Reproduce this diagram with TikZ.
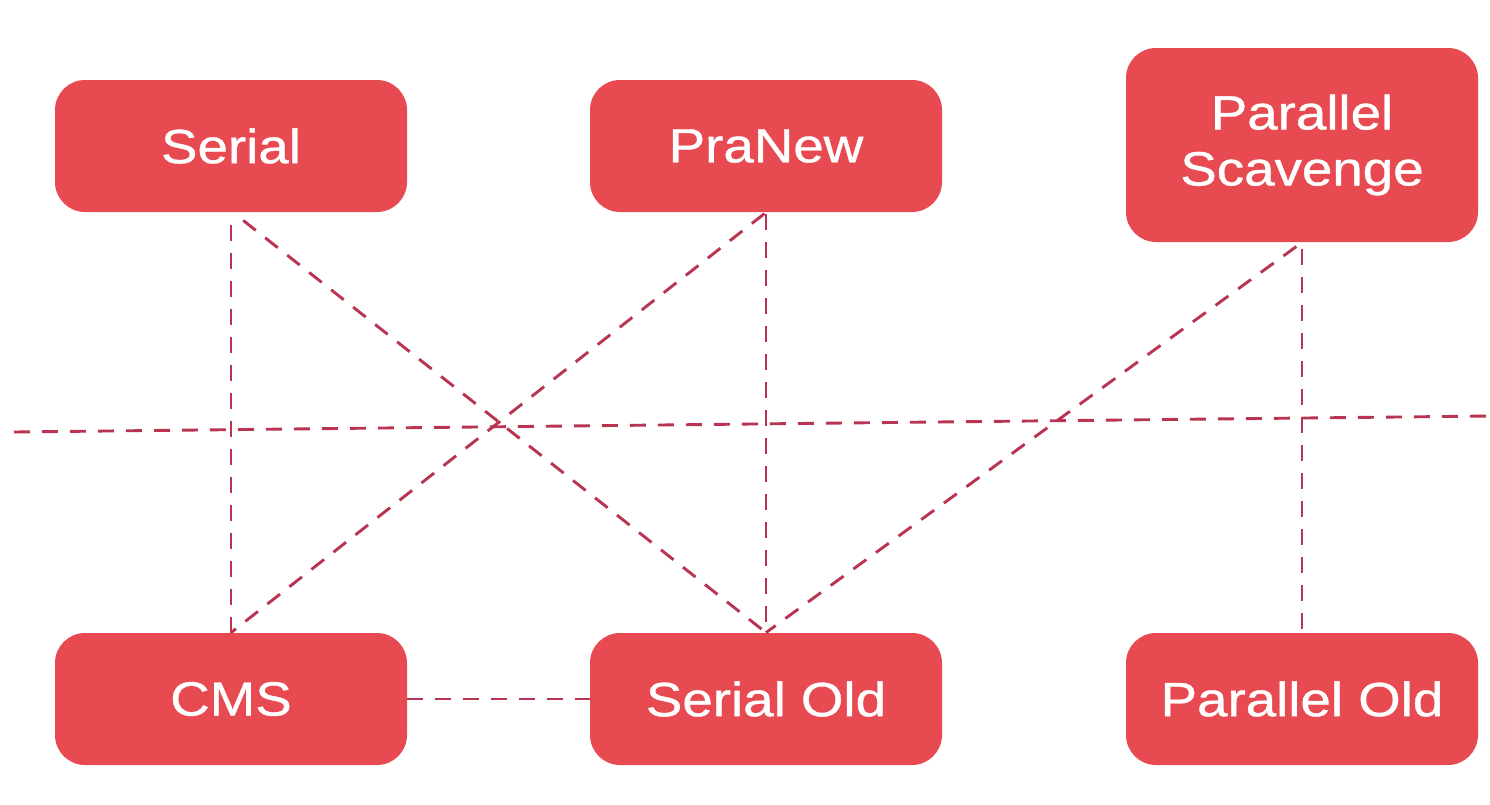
\documentclass[tikz,border=0pt]{standalone}
\usepackage{fontspec}
\setmainfont{Liberation Sans}[FakeStretch=1.14,FakeBold=0.8]
\usetikzlibrary{positioning}
\definecolor{gcbox}{HTML}{E84A51}
\definecolor{gcline}{HTML}{B93450}
\tikzset{
  gc/.style={rectangle,rounded corners=15pt,fill=gcbox,text=white,
    minimum width=176pt,minimum height=66pt,align=center,
    font=\fontsize{24}{28}\selectfont},
  link/.style={draw=gcline,line width=1.45pt,dash pattern=on 8pt off 6pt},
}
\begin{document}
\begin{tikzpicture}[x=0.5pt,y=-0.5pt]
  \useasboundingbox (0,0) rectangle (1490,804);

  \node[gc] (serial)    at (231,146) {Serial};
  \node[gc] (pranew)    at (766,146) {PraNew};
  \node[gc,minimum height=97pt] (pscav) at (1302,145) {Parallel\\Scavenge};
  \node[gc] (cms)       at (231,699) {CMS};
  \node[gc] (serialold) at (766,699) {Serial Old};
  \node[gc] (parold)    at (1302,699) {Parallel Old};

  \coordinate (lineL) at (14,432);
  \coordinate (lineR) at (1490,416);

  \draw[link,shorten <=6.5pt] (serial.south) -- (cms.north);
  \draw[link,shorten <=6.5pt] ([xshift=1pt]serial.south) -- (serialold.north);
  \draw[link,shorten <=1pt] (pranew.south) -- (serialold.north);
  \draw[link,shorten <=1pt] (pranew.south) -- (cms.north);
  \draw[link,shorten <=3.5pt] (pscav.south) -- (serialold.north);
  \draw[link,shorten <=3.5pt] (pscav.south) -- (parold.north);
  \draw[link] (cms.east) -- (serialold.west);
  \draw[link] (lineL) -- (lineR);

\end{tikzpicture}
\end{document}
